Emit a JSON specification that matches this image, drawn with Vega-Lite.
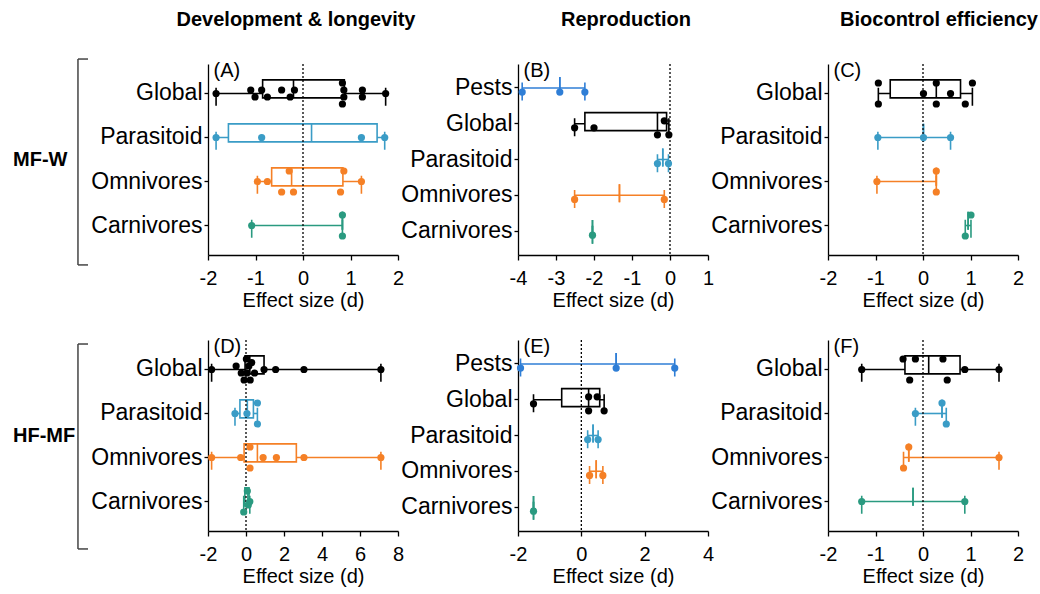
{
"$schema":"https://vega.github.io/schema/vega-lite/v6.json",
"background":"white",
"padding":{"left":0,"top":10,"right":5,"bottom":5},
"datasets":{
"stats":[
{"panel":"A","group":"Global","min":-1.83,"q1":-0.85,"median":-0.2,"q3":0.87,"max":1.74},
{"panel":"A","group":"Parasitoid","min":-1.83,"q1":-1.57,"median":0.18,"q3":1.56,"max":1.72},
{"panel":"A","group":"Omnivores","min":-0.96,"q1":-0.66,"median":-0.24,"q3":0.84,"max":1.23},
{"panel":"A","group":"Carnivores","min":-1.08,"q1":0.83,"median":0.83,"q3":0.83,"max":0.83},
{"panel":"B","group":"Pests","min":-3.89,"q1":-2.9,"median":-2.9,"q3":-2.9,"max":-2.24},
{"panel":"B","group":"Global","min":-2.51,"q1":-2.24,"median":-0.33,"q3":-0.09,"max":-0.03},
{"panel":"B","group":"Parasitoid","min":-0.33,"q1":-0.19,"median":-0.19,"q3":-0.19,"max":-0.04},
{"panel":"B","group":"Omnivores","min":-2.51,"q1":-1.33,"median":-1.33,"q3":-1.33,"max":-0.15},
{"panel":"B","group":"Carnivores","min":-2.04,"q1":-2.04,"median":-2.04,"q3":-2.04,"max":-2.04},
{"panel":"C","group":"Global","min":-0.94,"q1":-0.69,"median":0.28,"q3":0.79,"max":1.04},
{"panel":"C","group":"Parasitoid","min":-0.95,"q1":0.01,"median":0.01,"q3":0.01,"max":0.58},
{"panel":"C","group":"Omnivores","min":-0.97,"q1":0.28,"median":0.28,"q3":0.28,"max":0.28},
{"panel":"C","group":"Carnivores","min":0.89,"q1":0.95,"median":0.95,"q3":0.95,"max":1.01},
{"panel":"D","group":"Global","min":-1.81,"q1":-0.05,"median":0.2,"q3":0.95,"max":7.1},
{"panel":"D","group":"Parasitoid","min":-0.58,"q1":-0.32,"median":0.07,"q3":0.39,"max":0.6},
{"panel":"D","group":"Omnivores","min":-1.81,"q1":-0.1,"median":0.6,"q3":2.65,"max":7.1},
{"panel":"D","group":"Carnivores","min":-0.12,"q1":-0.06,"median":0.1,"q3":0.16,"max":0.2},
{"panel":"E","group":"Pests","min":-1.92,"q1":1.1,"median":1.1,"q3":1.1,"max":2.95},
{"panel":"E","group":"Global","min":-1.51,"q1":-0.62,"median":0.23,"q3":0.58,"max":0.72},
{"panel":"E","group":"Parasitoid","min":0.2,"q1":0.37,"median":0.37,"q3":0.37,"max":0.53},
{"panel":"E","group":"Omnivores","min":0.26,"q1":0.47,"median":0.47,"q3":0.47,"max":0.68},
{"panel":"E","group":"Carnivores","min":-1.51,"q1":-1.51,"median":-1.51,"q3":-1.51,"max":-1.51},
{"panel":"F","group":"Global","min":-1.29,"q1":-0.38,"median":0.12,"q3":0.78,"max":1.6},
{"panel":"F","group":"Parasitoid","min":-0.16,"q1":0.4,"median":0.4,"q3":0.4,"max":0.49},
{"panel":"F","group":"Omnivores","min":-0.41,"q1":-0.3,"median":-0.3,"q3":-0.3,"max":1.6},
{"panel":"F","group":"Carnivores","min":-1.29,"q1":-0.21,"median":-0.21,"q3":-0.21,"max":0.88}
],
"points":[
{"panel":"A","group":"Global","value":-1.83,"lane":0},
{"panel":"A","group":"Global","value":-1.10,"lane":-1},
{"panel":"A","group":"Global","value":-1.01,"lane":1},
{"panel":"A","group":"Global","value":-0.87,"lane":-1},
{"panel":"A","group":"Global","value":-0.75,"lane":1},
{"panel":"A","group":"Global","value":-0.45,"lane":-1},
{"panel":"A","group":"Global","value":-0.27,"lane":1},
{"panel":"A","group":"Global","value":-0.18,"lane":-1},
{"panel":"A","group":"Global","value":0.83,"lane":-3},
{"panel":"A","group":"Global","value":0.86,"lane":-1},
{"panel":"A","group":"Global","value":0.86,"lane":1},
{"panel":"A","group":"Global","value":0.83,"lane":3},
{"panel":"A","group":"Global","value":1.25,"lane":-1},
{"panel":"A","group":"Global","value":1.25,"lane":1},
{"panel":"A","group":"Global","value":1.74,"lane":0},
{"panel":"A","group":"Parasitoid","value":-1.83,"lane":0},
{"panel":"A","group":"Parasitoid","value":-0.87,"lane":0},
{"panel":"A","group":"Parasitoid","value":1.23,"lane":0},
{"panel":"A","group":"Parasitoid","value":1.72,"lane":0},
{"panel":"A","group":"Omnivores","value":-0.96,"lane":0},
{"panel":"A","group":"Omnivores","value":-0.75,"lane":0},
{"panel":"A","group":"Omnivores","value":-0.29,"lane":-3},
{"panel":"A","group":"Omnivores","value":-0.45,"lane":3},
{"panel":"A","group":"Omnivores","value":-0.2,"lane":3},
{"panel":"A","group":"Omnivores","value":0.86,"lane":-3},
{"panel":"A","group":"Omnivores","value":0.79,"lane":3},
{"panel":"A","group":"Omnivores","value":1.23,"lane":0},
{"panel":"A","group":"Carnivores","value":-1.08,"lane":0},
{"panel":"A","group":"Carnivores","value":0.83,"lane":-3},
{"panel":"A","group":"Carnivores","value":0.83,"lane":3},
{"panel":"B","group":"Pests","value":-3.89,"lane":0},
{"panel":"B","group":"Pests","value":-2.9,"lane":0},
{"panel":"B","group":"Pests","value":-2.24,"lane":0},
{"panel":"B","group":"Global","value":-2.51,"lane":0},
{"panel":"B","group":"Global","value":-2.0,"lane":0},
{"panel":"B","group":"Global","value":-0.33,"lane":2},
{"panel":"B","group":"Global","value":-0.15,"lane":-2},
{"panel":"B","group":"Global","value":-0.03,"lane":2},
{"panel":"B","group":"Parasitoid","value":-0.33,"lane":0},
{"panel":"B","group":"Parasitoid","value":-0.04,"lane":0},
{"panel":"B","group":"Omnivores","value":-2.51,"lane":0},
{"panel":"B","group":"Omnivores","value":-0.15,"lane":0},
{"panel":"B","group":"Carnivores","value":-2.04,"lane":0},
{"panel":"C","group":"Global","value":-0.94,"lane":-3},
{"panel":"C","group":"Global","value":-0.94,"lane":3},
{"panel":"C","group":"Global","value":0.01,"lane":0},
{"panel":"C","group":"Global","value":0.28,"lane":-3},
{"panel":"C","group":"Global","value":0.28,"lane":3},
{"panel":"C","group":"Global","value":0.58,"lane":0},
{"panel":"C","group":"Global","value":1.04,"lane":-3},
{"panel":"C","group":"Global","value":0.89,"lane":3},
{"panel":"C","group":"Parasitoid","value":-0.95,"lane":0},
{"panel":"C","group":"Parasitoid","value":0.01,"lane":0},
{"panel":"C","group":"Parasitoid","value":0.58,"lane":0},
{"panel":"C","group":"Omnivores","value":-0.97,"lane":0},
{"panel":"C","group":"Omnivores","value":0.28,"lane":-3},
{"panel":"C","group":"Omnivores","value":0.28,"lane":3},
{"panel":"C","group":"Carnivores","value":0.89,"lane":3},
{"panel":"C","group":"Carnivores","value":1.01,"lane":-3},
{"panel":"D","group":"Global","value":-1.81,"lane":0},
{"panel":"D","group":"Global","value":-0.52,"lane":-1},
{"panel":"D","group":"Global","value":-0.25,"lane":1},
{"panel":"D","group":"Global","value":-0.1,"lane":3},
{"panel":"D","group":"Global","value":0.02,"lane":-3},
{"panel":"D","group":"Global","value":0.05,"lane":1},
{"panel":"D","group":"Global","value":0.15,"lane":-1},
{"panel":"D","group":"Global","value":0.22,"lane":3},
{"panel":"D","group":"Global","value":0.3,"lane":-2},
{"panel":"D","group":"Global","value":0.45,"lane":1},
{"panel":"D","group":"Global","value":0.95,"lane":0},
{"panel":"D","group":"Global","value":1.56,"lane":0},
{"panel":"D","group":"Global","value":3.05,"lane":0},
{"panel":"D","group":"Global","value":7.1,"lane":0},
{"panel":"D","group":"Parasitoid","value":-0.58,"lane":0},
{"panel":"D","group":"Parasitoid","value":0.05,"lane":0},
{"panel":"D","group":"Parasitoid","value":0.6,"lane":-3},
{"panel":"D","group":"Parasitoid","value":0.6,"lane":3},
{"panel":"D","group":"Omnivores","value":-1.81,"lane":0},
{"panel":"D","group":"Omnivores","value":-0.28,"lane":0},
{"panel":"D","group":"Omnivores","value":0.21,"lane":-3},
{"panel":"D","group":"Omnivores","value":0.21,"lane":3},
{"panel":"D","group":"Omnivores","value":0.9,"lane":0},
{"panel":"D","group":"Omnivores","value":1.6,"lane":0},
{"panel":"D","group":"Omnivores","value":3.05,"lane":0},
{"panel":"D","group":"Omnivores","value":7.1,"lane":0},
{"panel":"D","group":"Carnivores","value":0.07,"lane":-3},
{"panel":"D","group":"Carnivores","value":0.2,"lane":0},
{"panel":"D","group":"Carnivores","value":0.12,"lane":1},
{"panel":"D","group":"Carnivores","value":-0.12,"lane":3},
{"panel":"E","group":"Pests","value":-1.92,"lane":0},
{"panel":"E","group":"Pests","value":1.1,"lane":0},
{"panel":"E","group":"Pests","value":2.95,"lane":0},
{"panel":"E","group":"Global","value":-1.51,"lane":0},
{"panel":"E","group":"Global","value":0.23,"lane":-2},
{"panel":"E","group":"Global","value":0.23,"lane":2},
{"panel":"E","group":"Global","value":0.5,"lane":-2},
{"panel":"E","group":"Global","value":0.72,"lane":2},
{"panel":"E","group":"Parasitoid","value":0.2,"lane":0},
{"panel":"E","group":"Parasitoid","value":0.53,"lane":0},
{"panel":"E","group":"Omnivores","value":0.26,"lane":0},
{"panel":"E","group":"Omnivores","value":0.68,"lane":0},
{"panel":"E","group":"Carnivores","value":-1.51,"lane":0},
{"panel":"F","group":"Global","value":-1.29,"lane":0},
{"panel":"F","group":"Global","value":-0.42,"lane":-3},
{"panel":"F","group":"Global","value":-0.28,"lane":3},
{"panel":"F","group":"Global","value":-0.16,"lane":-3},
{"panel":"F","group":"Global","value":0.42,"lane":-3},
{"panel":"F","group":"Global","value":0.51,"lane":3},
{"panel":"F","group":"Global","value":0.88,"lane":0},
{"panel":"F","group":"Global","value":1.6,"lane":0},
{"panel":"F","group":"Parasitoid","value":-0.16,"lane":0},
{"panel":"F","group":"Parasitoid","value":0.4,"lane":-3},
{"panel":"F","group":"Parasitoid","value":0.49,"lane":3},
{"panel":"F","group":"Omnivores","value":-0.41,"lane":3},
{"panel":"F","group":"Omnivores","value":-0.3,"lane":-3},
{"panel":"F","group":"Omnivores","value":1.6,"lane":0},
{"panel":"F","group":"Carnivores","value":-1.29,"lane":0},
{"panel":"F","group":"Carnivores","value":0.88,"lane":0}
]
},
"vconcat":[
{"hconcat":[
 {"width":88,"height":191,"data":{"values":[{"t":"MF-W"}]},"layer":[
  {"mark":{"type":"text","align":"left","baseline":"middle","fontSize":20,"fontWeight":"bold","color":"#000"},"encoding":{"x":{"datum":0.148,"type":"quantitative","scale":{"domain":[0,1],"nice":false,"zero":false},"axis":null},"y":{"datum":0.5,"type":"quantitative","scale":{"domain":[0,1],"nice":false,"zero":false},"axis":null},"text":{"field":"t"}}},
  {"mark":{"type":"rule","color":"#444","strokeWidth":1.5},"encoding":{"x":{"datum":0.886,"type":"quantitative"},"y":{"datum":1.026,"type":"quantitative"},"y2":{"datum":-0.052}}},
  {"mark":{"type":"rule","color":"#444","strokeWidth":1.5},"encoding":{"x":{"datum":0.886,"type":"quantitative"},"x2":{"datum":1},"y":{"datum":1.026,"type":"quantitative"}}},
  {"mark":{"type":"rule","color":"#444","strokeWidth":1.5},"encoding":{"x":{"datum":0.886,"type":"quantitative"},"x2":{"datum":1},"y":{"datum":-0.052,"type":"quantitative"}}}
 ]},
 {"width":190,"height":191,"title":{"text":"Development & longevity","dx":-7},
  "layer":[
  {"data":{"name":"stats"},"transform":[{"filter":"datum.panel==='A'"}],"mark":{"type":"rule","strokeWidth":1.6},
   "encoding":{"x":{"field":"min","type":"quantitative","title":"Effect size (d)","scale":{"domain":[-2,2],"nice":false,"zero":false},"axis":{"values":[-2,-1,0,1,2],"tickCount":20,"labelOverlap":false,"labelFlush":false}},"x2":{"field":"max"},
    "y":{"field":"group","type":"nominal","title":"(A)","scale":{"domain":["Global","Parasitoid","Omnivores","Carnivores"],"paddingInner":0,"paddingOuter":0.17}},
    "color":{"field":"group","type":"nominal","scale":{"domain":["Global","Parasitoid","Omnivores","Carnivores","Pests"],"range":["#000000","#3a9cc6","#f58026","#2a9a80","#2f7ed6"]},"legend":null}}},
  {"data":{"name":"stats"},"transform":[{"filter":"datum.panel==='A'"}],"mark":{"type":"bar","height":{"band":0.62},"fill":"white","strokeWidth":1.6},
   "encoding":{"x":{"field":"q1","type":"quantitative","title":"Effect size (d)"},"x2":{"field":"q3"},"y":{"field":"group","type":"nominal","title":"(A)"},
    "stroke":{"field":"group","type":"nominal","scale":{"domain":["Global","Parasitoid","Omnivores","Carnivores","Pests"],"range":["#000000","#3a9cc6","#f58026","#2a9a80","#2f7ed6"]},"legend":null}}},
  {"data":{"name":"stats"},"transform":[{"filter":"datum.panel==='A'"}],"mark":{"type":"bar","height":{"band":0.62},"fillOpacity":0,"strokeWidth":1.6},
   "encoding":{"x":{"field":"median","type":"quantitative","title":"Effect size (d)"},"x2":{"field":"median"},"y":{"field":"group","type":"nominal","title":"(A)"},"stroke":{"field":"group","type":"nominal","legend":null}}},
  {"data":{"name":"stats"},"transform":[{"filter":"datum.panel==='A'"}],"mark":{"type":"bar","height":{"band":0.26},"fillOpacity":0,"strokeWidth":1.6},
   "encoding":{"x":{"field":"min","type":"quantitative","title":"Effect size (d)"},"x2":{"field":"min"},"y":{"field":"group","type":"nominal","title":"(A)"},"stroke":{"field":"group","type":"nominal","legend":null}}},
  {"data":{"name":"stats"},"transform":[{"filter":"datum.panel==='A'"}],"mark":{"type":"bar","height":{"band":0.26},"fillOpacity":0,"strokeWidth":1.6},
   "encoding":{"x":{"field":"max","type":"quantitative","title":"Effect size (d)"},"x2":{"field":"max"},"y":{"field":"group","type":"nominal","title":"(A)"},"stroke":{"field":"group","type":"nominal","legend":null}}},
  {"data":{"values":[{}]},"mark":{"type":"rule","strokeDash":[2,2],"color":"#000","strokeWidth":1.3},"encoding":{"x":{"datum":0,"type":"quantitative"}}},
  {"data":{"name":"points"},"transform":[{"filter":"datum.panel==='A'"}],"mark":{"type":"circle","size":52,"opacity":1},
   "encoding":{"x":{"field":"value","type":"quantitative","title":"Effect size (d)"},"y":{"field":"group","type":"nominal","title":"(A)"},
    "yOffset":{"field":"lane","type":"quantitative","scale":{"domain":[-4,4],"range":[8,36]}},
    "color":{"field":"group","type":"nominal","legend":null}}}
 ]},
 {"width":190,"height":191,"title":{"text":"Reproduction","dx":13},
  "layer":[
  {"data":{"name":"stats"},"transform":[{"filter":"datum.panel==='B'"}],"mark":{"type":"rule","strokeWidth":1.6},
   "encoding":{"x":{"field":"min","type":"quantitative","title":"Effect size (d)","scale":{"domain":[-4,1],"nice":false,"zero":false},"axis":{"values":[-4,-3,-2,-1,0,1],"tickCount":20,"labelOverlap":false,"labelFlush":false}},"x2":{"field":"max"},
    "y":{"field":"group","type":"nominal","title":"(B)","scale":{"domain":["Pests","Global","Parasitoid","Omnivores","Carnivores"],"paddingInner":0,"paddingOuter":0.17}},
    "color":{"field":"group","type":"nominal","scale":{"domain":["Global","Parasitoid","Omnivores","Carnivores","Pests"],"range":["#000000","#3a9cc6","#f58026","#2a9a80","#2f7ed6"]},"legend":null}}},
  {"data":{"name":"stats"},"transform":[{"filter":"datum.panel==='B'"}],"mark":{"type":"bar","height":{"band":0.62},"fill":"white","strokeWidth":1.6},
   "encoding":{"x":{"field":"q1","type":"quantitative","title":"Effect size (d)"},"x2":{"field":"q3"},"y":{"field":"group","type":"nominal","title":"(B)"},
    "stroke":{"field":"group","type":"nominal","scale":{"domain":["Global","Parasitoid","Omnivores","Carnivores","Pests"],"range":["#000000","#3a9cc6","#f58026","#2a9a80","#2f7ed6"]},"legend":null}}},
  {"data":{"name":"stats"},"transform":[{"filter":"datum.panel==='B'"}],"mark":{"type":"bar","height":{"band":0.62},"fillOpacity":0,"strokeWidth":1.6},
   "encoding":{"x":{"field":"median","type":"quantitative","title":"Effect size (d)"},"x2":{"field":"median"},"y":{"field":"group","type":"nominal","title":"(B)"},"stroke":{"field":"group","type":"nominal","legend":null}}},
  {"data":{"name":"stats"},"transform":[{"filter":"datum.panel==='B'"}],"mark":{"type":"bar","height":{"band":0.3},"fillOpacity":0,"strokeWidth":1.6},
   "encoding":{"x":{"field":"min","type":"quantitative","title":"Effect size (d)"},"x2":{"field":"min"},"y":{"field":"group","type":"nominal","title":"(B)"},"stroke":{"field":"group","type":"nominal","legend":null}}},
  {"data":{"name":"stats"},"transform":[{"filter":"datum.panel==='B'"}],"mark":{"type":"bar","height":{"band":0.3},"fillOpacity":0,"strokeWidth":1.6},
   "encoding":{"x":{"field":"max","type":"quantitative","title":"Effect size (d)"},"x2":{"field":"max"},"y":{"field":"group","type":"nominal","title":"(B)"},"stroke":{"field":"group","type":"nominal","legend":null}}},
  {"data":{"values":[{}]},"mark":{"type":"rule","strokeDash":[2,2],"color":"#000","strokeWidth":1.3},"encoding":{"x":{"datum":0,"type":"quantitative"}}},
  {"data":{"name":"points"},"transform":[{"filter":"datum.panel==='B'"}],"mark":{"type":"circle","size":52,"opacity":1},
   "encoding":{"x":{"field":"value","type":"quantitative","title":"Effect size (d)"},"y":{"field":"group","type":"nominal","title":"(B)"},
    "yOffset":{"field":"lane","type":"quantitative","scale":{"domain":[-4,4],"range":[3.9,31.9]}},
    "color":{"field":"group","type":"nominal","legend":null}}}
 ]},
 {"width":190,"height":191,"title":{"text":"Biocontrol efficiency","dx":16},
  "layer":[
  {"data":{"name":"stats"},"transform":[{"filter":"datum.panel==='C'"}],"mark":{"type":"rule","strokeWidth":1.6},
   "encoding":{"x":{"field":"min","type":"quantitative","title":"Effect size (d)","scale":{"domain":[-2,2],"nice":false,"zero":false},"axis":{"values":[-2,-1,0,1,2],"tickCount":20,"labelOverlap":false,"labelFlush":false}},"x2":{"field":"max"},
    "y":{"field":"group","type":"nominal","title":"(C)","scale":{"domain":["Global","Parasitoid","Omnivores","Carnivores"],"paddingInner":0,"paddingOuter":0.17}},
    "color":{"field":"group","type":"nominal","scale":{"domain":["Global","Parasitoid","Omnivores","Carnivores","Pests"],"range":["#000000","#3a9cc6","#f58026","#2a9a80","#2f7ed6"]},"legend":null}}},
  {"data":{"name":"stats"},"transform":[{"filter":"datum.panel==='C'"}],"mark":{"type":"bar","height":{"band":0.62},"fill":"white","strokeWidth":1.6},
   "encoding":{"x":{"field":"q1","type":"quantitative","title":"Effect size (d)"},"x2":{"field":"q3"},"y":{"field":"group","type":"nominal","title":"(C)"},
    "stroke":{"field":"group","type":"nominal","scale":{"domain":["Global","Parasitoid","Omnivores","Carnivores","Pests"],"range":["#000000","#3a9cc6","#f58026","#2a9a80","#2f7ed6"]},"legend":null}}},
  {"data":{"name":"stats"},"transform":[{"filter":"datum.panel==='C'"}],"mark":{"type":"bar","height":{"band":0.62},"fillOpacity":0,"strokeWidth":1.6},
   "encoding":{"x":{"field":"median","type":"quantitative","title":"Effect size (d)"},"x2":{"field":"median"},"y":{"field":"group","type":"nominal","title":"(C)"},"stroke":{"field":"group","type":"nominal","legend":null}}},
  {"data":{"name":"stats"},"transform":[{"filter":"datum.panel==='C'"}],"mark":{"type":"bar","height":{"band":0.26},"fillOpacity":0,"strokeWidth":1.6},
   "encoding":{"x":{"field":"min","type":"quantitative","title":"Effect size (d)"},"x2":{"field":"min"},"y":{"field":"group","type":"nominal","title":"(C)"},"stroke":{"field":"group","type":"nominal","legend":null}}},
  {"data":{"name":"stats"},"transform":[{"filter":"datum.panel==='C'"}],"mark":{"type":"bar","height":{"band":0.26},"fillOpacity":0,"strokeWidth":1.6},
   "encoding":{"x":{"field":"max","type":"quantitative","title":"Effect size (d)"},"x2":{"field":"max"},"y":{"field":"group","type":"nominal","title":"(C)"},"stroke":{"field":"group","type":"nominal","legend":null}}},
  {"data":{"values":[{}]},"mark":{"type":"rule","strokeDash":[2,2],"color":"#000","strokeWidth":1.3},"encoding":{"x":{"datum":0,"type":"quantitative"}}},
  {"data":{"name":"points"},"transform":[{"filter":"datum.panel==='C'"}],"mark":{"type":"circle","size":52,"opacity":1},
   "encoding":{"x":{"field":"value","type":"quantitative","title":"Effect size (d)"},"y":{"field":"group","type":"nominal","title":"(C)"},
    "yOffset":{"field":"lane","type":"quantitative","scale":{"domain":[-4,4],"range":[8,36]}},
    "color":{"field":"group","type":"nominal","legend":null}}}
 ]}
],"spacing":120,"bounds":"flush"},
{"hconcat":[
 {"width":88,"height":191,"data":{"values":[{"t":"HF-MF"}]},"layer":[
  {"mark":{"type":"text","align":"left","baseline":"middle","fontSize":20,"fontWeight":"bold","color":"#000"},"encoding":{"x":{"datum":0.148,"type":"quantitative","scale":{"domain":[0,1],"nice":false,"zero":false},"axis":null},"y":{"datum":0.5,"type":"quantitative","scale":{"domain":[0,1],"nice":false,"zero":false},"axis":null},"text":{"field":"t"}}},
  {"mark":{"type":"rule","color":"#444","strokeWidth":1.5},"encoding":{"x":{"datum":0.886,"type":"quantitative"},"y":{"datum":0.979,"type":"quantitative"},"y2":{"datum":-0.094}}},
  {"mark":{"type":"rule","color":"#444","strokeWidth":1.5},"encoding":{"x":{"datum":0.886,"type":"quantitative"},"x2":{"datum":1},"y":{"datum":0.979,"type":"quantitative"}}},
  {"mark":{"type":"rule","color":"#444","strokeWidth":1.5},"encoding":{"x":{"datum":0.886,"type":"quantitative"},"x2":{"datum":1},"y":{"datum":-0.094,"type":"quantitative"}}}
 ]},
 {"width":190,"height":191,
  "layer":[
  {"data":{"name":"stats"},"transform":[{"filter":"datum.panel==='D'"}],"mark":{"type":"rule","strokeWidth":1.6},
   "encoding":{"x":{"field":"min","type":"quantitative","title":"Effect size (d)","scale":{"domain":[-2,8],"nice":false,"zero":false},"axis":{"values":[-2,0,2,4,6,8],"tickCount":20,"labelOverlap":false,"labelFlush":false}},"x2":{"field":"max"},
    "y":{"field":"group","type":"nominal","title":"(D)","scale":{"domain":["Global","Parasitoid","Omnivores","Carnivores"],"paddingInner":0,"paddingOuter":0.17}},
    "color":{"field":"group","type":"nominal","scale":{"domain":["Global","Parasitoid","Omnivores","Carnivores","Pests"],"range":["#000000","#3a9cc6","#f58026","#2a9a80","#2f7ed6"]},"legend":null}}},
  {"data":{"name":"stats"},"transform":[{"filter":"datum.panel==='D'"}],"mark":{"type":"bar","height":{"band":0.62},"fill":"white","strokeWidth":1.6},
   "encoding":{"x":{"field":"q1","type":"quantitative","title":"Effect size (d)"},"x2":{"field":"q3"},"y":{"field":"group","type":"nominal","title":"(D)"},
    "stroke":{"field":"group","type":"nominal","scale":{"domain":["Global","Parasitoid","Omnivores","Carnivores","Pests"],"range":["#000000","#3a9cc6","#f58026","#2a9a80","#2f7ed6"]},"legend":null}}},
  {"data":{"name":"stats"},"transform":[{"filter":"datum.panel==='D'"}],"mark":{"type":"bar","height":{"band":0.62},"fillOpacity":0,"strokeWidth":1.6},
   "encoding":{"x":{"field":"median","type":"quantitative","title":"Effect size (d)"},"x2":{"field":"median"},"y":{"field":"group","type":"nominal","title":"(D)"},"stroke":{"field":"group","type":"nominal","legend":null}}},
  {"data":{"name":"stats"},"transform":[{"filter":"datum.panel==='D'"}],"mark":{"type":"bar","height":{"band":0.26},"fillOpacity":0,"strokeWidth":1.6},
   "encoding":{"x":{"field":"min","type":"quantitative","title":"Effect size (d)"},"x2":{"field":"min"},"y":{"field":"group","type":"nominal","title":"(D)"},"stroke":{"field":"group","type":"nominal","legend":null}}},
  {"data":{"name":"stats"},"transform":[{"filter":"datum.panel==='D'"}],"mark":{"type":"bar","height":{"band":0.26},"fillOpacity":0,"strokeWidth":1.6},
   "encoding":{"x":{"field":"max","type":"quantitative","title":"Effect size (d)"},"x2":{"field":"max"},"y":{"field":"group","type":"nominal","title":"(D)"},"stroke":{"field":"group","type":"nominal","legend":null}}},
  {"data":{"values":[{}]},"mark":{"type":"rule","strokeDash":[2,2],"color":"#000","strokeWidth":1.3},"encoding":{"x":{"datum":0,"type":"quantitative"}}},
  {"data":{"name":"points"},"transform":[{"filter":"datum.panel==='D'"}],"mark":{"type":"circle","size":52,"opacity":1},
   "encoding":{"x":{"field":"value","type":"quantitative","title":"Effect size (d)"},"y":{"field":"group","type":"nominal","title":"(D)"},
    "yOffset":{"field":"lane","type":"quantitative","scale":{"domain":[-4,4],"range":[8,36]}},
    "color":{"field":"group","type":"nominal","legend":null}}}
 ]},
 {"width":190,"height":191,
  "layer":[
  {"data":{"name":"stats"},"transform":[{"filter":"datum.panel==='E'"}],"mark":{"type":"rule","strokeWidth":1.6},
   "encoding":{"x":{"field":"min","type":"quantitative","title":"Effect size (d)","scale":{"domain":[-2,4],"nice":false,"zero":false},"axis":{"values":[-2,0,2,4],"tickCount":20,"labelOverlap":false,"labelFlush":false}},"x2":{"field":"max"},
    "y":{"field":"group","type":"nominal","title":"(E)","scale":{"domain":["Pests","Global","Parasitoid","Omnivores","Carnivores"],"paddingInner":0,"paddingOuter":0.17}},
    "color":{"field":"group","type":"nominal","scale":{"domain":["Global","Parasitoid","Omnivores","Carnivores","Pests"],"range":["#000000","#3a9cc6","#f58026","#2a9a80","#2f7ed6"]},"legend":null}}},
  {"data":{"name":"stats"},"transform":[{"filter":"datum.panel==='E'"}],"mark":{"type":"bar","height":{"band":0.62},"fill":"white","strokeWidth":1.6},
   "encoding":{"x":{"field":"q1","type":"quantitative","title":"Effect size (d)"},"x2":{"field":"q3"},"y":{"field":"group","type":"nominal","title":"(E)"},
    "stroke":{"field":"group","type":"nominal","scale":{"domain":["Global","Parasitoid","Omnivores","Carnivores","Pests"],"range":["#000000","#3a9cc6","#f58026","#2a9a80","#2f7ed6"]},"legend":null}}},
  {"data":{"name":"stats"},"transform":[{"filter":"datum.panel==='E'"}],"mark":{"type":"bar","height":{"band":0.62},"fillOpacity":0,"strokeWidth":1.6},
   "encoding":{"x":{"field":"median","type":"quantitative","title":"Effect size (d)"},"x2":{"field":"median"},"y":{"field":"group","type":"nominal","title":"(E)"},"stroke":{"field":"group","type":"nominal","legend":null}}},
  {"data":{"name":"stats"},"transform":[{"filter":"datum.panel==='E'"}],"mark":{"type":"bar","height":{"band":0.3},"fillOpacity":0,"strokeWidth":1.6},
   "encoding":{"x":{"field":"min","type":"quantitative","title":"Effect size (d)"},"x2":{"field":"min"},"y":{"field":"group","type":"nominal","title":"(E)"},"stroke":{"field":"group","type":"nominal","legend":null}}},
  {"data":{"name":"stats"},"transform":[{"filter":"datum.panel==='E'"}],"mark":{"type":"bar","height":{"band":0.3},"fillOpacity":0,"strokeWidth":1.6},
   "encoding":{"x":{"field":"max","type":"quantitative","title":"Effect size (d)"},"x2":{"field":"max"},"y":{"field":"group","type":"nominal","title":"(E)"},"stroke":{"field":"group","type":"nominal","legend":null}}},
  {"data":{"values":[{}]},"mark":{"type":"rule","strokeDash":[2,2],"color":"#000","strokeWidth":1.3},"encoding":{"x":{"datum":0,"type":"quantitative"}}},
  {"data":{"name":"points"},"transform":[{"filter":"datum.panel==='E'"}],"mark":{"type":"circle","size":52,"opacity":1},
   "encoding":{"x":{"field":"value","type":"quantitative","title":"Effect size (d)"},"y":{"field":"group","type":"nominal","title":"(E)"},
    "yOffset":{"field":"lane","type":"quantitative","scale":{"domain":[-4,4],"range":[3.9,31.9]}},
    "color":{"field":"group","type":"nominal","legend":null}}}
 ]},
 {"width":190,"height":191,
  "layer":[
  {"data":{"name":"stats"},"transform":[{"filter":"datum.panel==='F'"}],"mark":{"type":"rule","strokeWidth":1.6},
   "encoding":{"x":{"field":"min","type":"quantitative","title":"Effect size (d)","scale":{"domain":[-2,2],"nice":false,"zero":false},"axis":{"values":[-2,-1,0,1,2],"tickCount":20,"labelOverlap":false,"labelFlush":false}},"x2":{"field":"max"},
    "y":{"field":"group","type":"nominal","title":"(F)","scale":{"domain":["Global","Parasitoid","Omnivores","Carnivores"],"paddingInner":0,"paddingOuter":0.17}},
    "color":{"field":"group","type":"nominal","scale":{"domain":["Global","Parasitoid","Omnivores","Carnivores","Pests"],"range":["#000000","#3a9cc6","#f58026","#2a9a80","#2f7ed6"]},"legend":null}}},
  {"data":{"name":"stats"},"transform":[{"filter":"datum.panel==='F'"}],"mark":{"type":"bar","height":{"band":0.62},"fill":"white","strokeWidth":1.6},
   "encoding":{"x":{"field":"q1","type":"quantitative","title":"Effect size (d)"},"x2":{"field":"q3"},"y":{"field":"group","type":"nominal","title":"(F)"},
    "stroke":{"field":"group","type":"nominal","scale":{"domain":["Global","Parasitoid","Omnivores","Carnivores","Pests"],"range":["#000000","#3a9cc6","#f58026","#2a9a80","#2f7ed6"]},"legend":null}}},
  {"data":{"name":"stats"},"transform":[{"filter":"datum.panel==='F'"}],"mark":{"type":"bar","height":{"band":0.62},"fillOpacity":0,"strokeWidth":1.6},
   "encoding":{"x":{"field":"median","type":"quantitative","title":"Effect size (d)"},"x2":{"field":"median"},"y":{"field":"group","type":"nominal","title":"(F)"},"stroke":{"field":"group","type":"nominal","legend":null}}},
  {"data":{"name":"stats"},"transform":[{"filter":"datum.panel==='F'"}],"mark":{"type":"bar","height":{"band":0.26},"fillOpacity":0,"strokeWidth":1.6},
   "encoding":{"x":{"field":"min","type":"quantitative","title":"Effect size (d)"},"x2":{"field":"min"},"y":{"field":"group","type":"nominal","title":"(F)"},"stroke":{"field":"group","type":"nominal","legend":null}}},
  {"data":{"name":"stats"},"transform":[{"filter":"datum.panel==='F'"}],"mark":{"type":"bar","height":{"band":0.26},"fillOpacity":0,"strokeWidth":1.6},
   "encoding":{"x":{"field":"max","type":"quantitative","title":"Effect size (d)"},"x2":{"field":"max"},"y":{"field":"group","type":"nominal","title":"(F)"},"stroke":{"field":"group","type":"nominal","legend":null}}},
  {"data":{"values":[{}]},"mark":{"type":"rule","strokeDash":[2,2],"color":"#000","strokeWidth":1.3},"encoding":{"x":{"datum":0,"type":"quantitative"}}},
  {"data":{"name":"points"},"transform":[{"filter":"datum.panel==='F'"}],"mark":{"type":"circle","size":52,"opacity":1},
   "encoding":{"x":{"field":"value","type":"quantitative","title":"Effect size (d)"},"y":{"field":"group","type":"nominal","title":"(F)"},
    "yOffset":{"field":"lane","type":"quantitative","scale":{"domain":[-4,4],"range":[8,36]}},
    "color":{"field":"group","type":"nominal","legend":null}}}
 ]}
],"spacing":120,"bounds":"flush"}
],
"spacing":26,
"config":{
 "font":"Liberation Sans",
 "view":{"stroke":null},
 "axis":{"domainColor":"#000","tickColor":"#000","labelColor":"#000","titleColor":"#000","grid":false,"domainWidth":1.3,"tickWidth":1.3,"labelFont":"Liberation Sans","titleFont":"Liberation Sans"},
 "axisX":{"labelFontSize":20,"tickSize":5,"labelPadding":8,"labelOverlap":false,"labelFlush":false,"titleFontSize":20,"titleFontWeight":"normal","titlePadding":2,"labelExpr":"'' + datum.value"},
 "axisY":{"labelFontSize":23,"tickSize":4,"labelPadding":2,"titleAngle":0,"titleAlign":"left","titleBaseline":"middle","titleX":5,"titleY":6,"titleFontSize":20,"titleFontWeight":"normal"},
 "title":{"fontSize":20,"fontWeight":"bold","font":"Liberation Sans","color":"#000","anchor":"middle","frame":"group","offset":30}
}
}
